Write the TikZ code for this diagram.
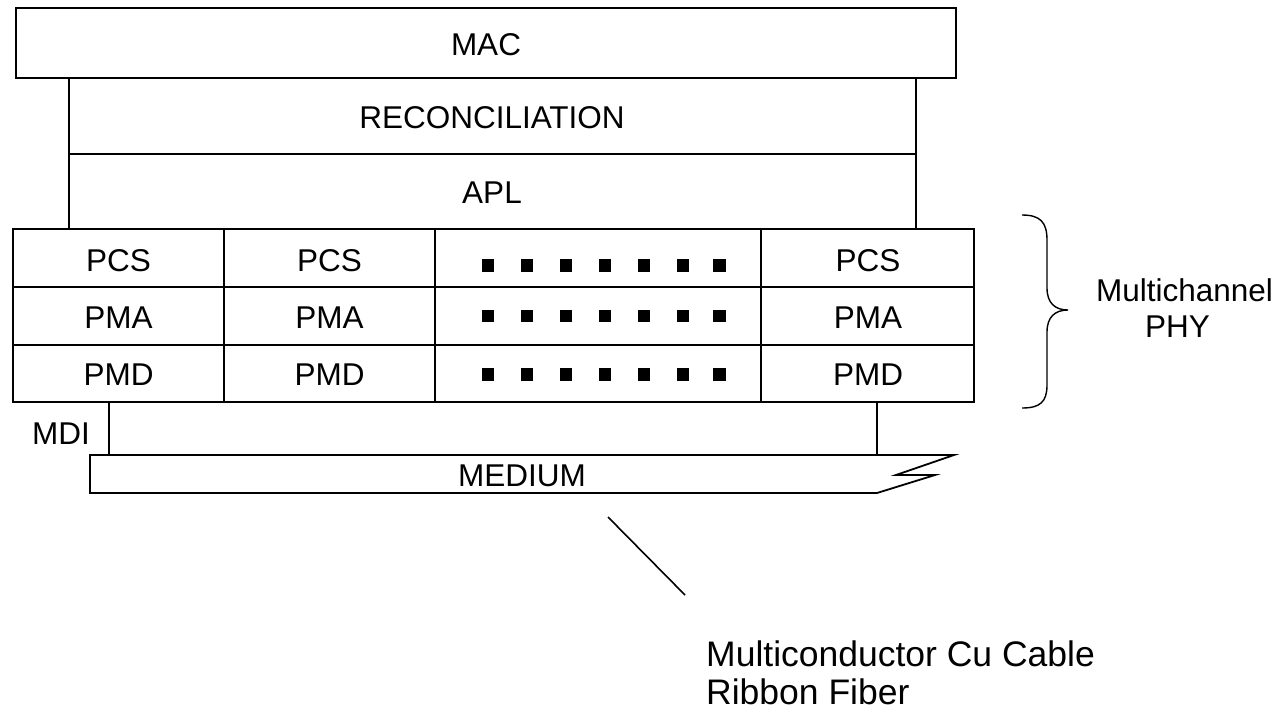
\documentclass[tikz,border=0pt]{standalone}
\usepackage{fontspec}
\setmainfont{Liberation Sans}
\begin{document}
\begin{tikzpicture}[x=1pt,y=-1pt,
  ln/.style={line width=1.8pt, line join=miter},
  lbl/.style={font=\fontsize{31.5}{36}\selectfont, anchor=base, inner sep=0pt},
  big/.style={font=\fontsize{35.5}{40}\selectfont, anchor=base west, inner sep=0pt},
  dot/.style={fill=black, minimum size=12.5pt, inner sep=0pt, draw=none, rectangle}]
\useasboundingbox (0,0) rectangle (1285,713);
% boxes
\draw[ln] (16,8) rectangle (956,78);
\draw[ln] (69,78) -- (69,229) (916,78) -- (916,229) (69,154) -- (916,154);
\draw[ln] (13,229) rectangle (974,402);
\draw[ln] (13,287) -- (974,287) (13,345) -- (974,345);
\draw[ln] (224,229) -- (224,402) (435,229) -- (435,402) (761,229) -- (761,402);
\draw[ln] (109,402) -- (109,455) (877,402) -- (877,455);
\draw[ln] (90,455) -- (954,455) -- (896,475) -- (935,475) -- (877,493) -- (90,493) -- cycle;
% brace
\draw[line width=1.4pt] (1022,215) .. controls (1040,215) and (1047,222) .. (1047,240)
  -- (1047,288) .. controls (1047,303) and (1055,310) .. (1068,310)
  .. controls (1055,310) and (1047,317) .. (1047,332)
  -- (1047,385) .. controls (1047,402) and (1040,408) .. (1022,408);
% texts
\node[lbl] (mac) at (486,55) {MAC};
\node[lbl] (rec) at (492,128) {RECONCILIATION};
\node[lbl] (apl) at (492,203) {APL};
\foreach \r/\y in {PCS/271,PMA/328,PMD/385}{
  \node[lbl] (\r a) at (118.5,\y) {\r};
  \node[lbl] (\r b) at (329.5,\y) {\r};
  \node[lbl] (\r c) at (868,\y) {\r};
}
\foreach \y [count=\j] in {265.5,316,374.5}{
  \foreach \x [count=\i] in {488,527,566,605,644,683,719.5}{
    \node[dot] (d\j\i) at (\x,\y) {};
  }
}
\node[lbl] (mdi) at (61,444) {MDI};
\node[lbl] (med) at (522,486) {MEDIUM};
\node[lbl] (mc) at (1184.5,301) {Multichannel};
\node[lbl] (phy) at (1177.5,337) {PHY};
\node[big] (cu) at (706,666) {Multiconductor Cu Cable};
\node[big] (rf) at (706,704) {Ribbon Fiber};
\coordinate (la) at (608,517);
\coordinate (lb) at (685,595);
\draw[line width=1.6pt] (la) -- (lb);
\end{tikzpicture}
\end{document}
